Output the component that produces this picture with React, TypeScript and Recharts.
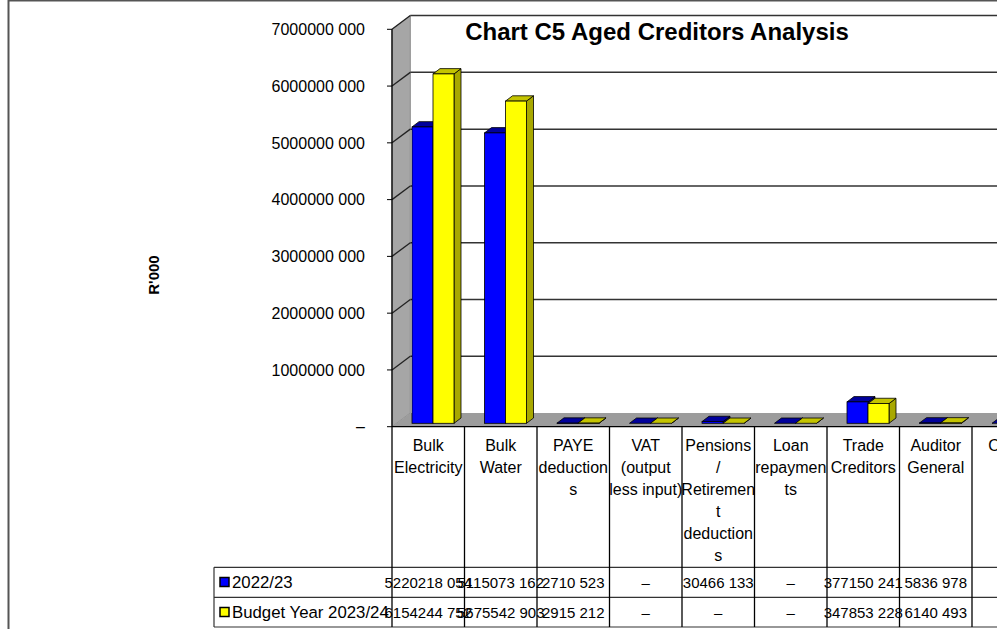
import { BarChart, Bar, XAxis, YAxis, CartesianGrid, Customized } from "recharts";

// R'000 values
const CATEGORIES = [
  "Bulk Electricity",
  "Bulk Water",
  "PAYE deductions",
  "VAT (output less input)",
  "Pensions / Retirement deductions",
  "Loan repayments",
  "Trade Creditors",
  "Auditor General",
  "Other",
];

// how the category names wrap inside the table header cells
const CATEGORY_LINES = [
  ["Bulk", "Electricity"],
  ["Bulk", "Water"],
  ["PAYE", "deduction", "s"],
  ["VAT", "(output", "less input)"],
  ["Pensions", "/", "Retiremen", "t", "deduction", "s"],
  ["Loan", "repaymen", "ts"],
  ["Trade", "Creditors"],
  ["Auditor", "General"],
  ["Other"],
];

const SERIES_2022 = [5220218054, 5115073162, 2710523, 0, 30466133, 0, 377150241, 5836978, 0];
const SERIES_BUDGET = [6154244752, 5675542903, 2915212, 0, 0, 0, 347853228, 6140493, 0];

const Y_TICKS = [0, 1000000000, 2000000000, 3000000000, 4000000000, 5000000000, 6000000000, 7000000000];

const data = CATEGORIES.map((name, i) => ({
  name,
  y2022: SERIES_2022[i],
  budget: SERIES_BUDGET[i],
}));

const W = 1100;
const H = 629;
const PLOT_LEFT = 392;
const PLOT_TOP = 29.3;
const PLOT_BOTTOM = 426.7;
const BAND = 72.5;
const PLOT_RIGHT = PLOT_LEFT + BAND * CATEGORIES.length;
const WALL_DX = 18.3;
const WALL_DY = -13.7;
const BAR_DX = 5;
const BAR_DY = -3.4;
const DEPTH_DX = 7;
const DEPTH_DY = -5.3;
const ROW1 = 567.3;
const ROW2 = 597.3;
const ROW3 = 627;
const TABLE_LEFT = 214;
const FONT = '"Liberation Sans", Arial, sans-serif';

function fmt(v: number): string {
  if (!v) return "–";
  const hi = Math.floor(v / 1000);
  const lo = String(v % 1000).padStart(3, "0");
  return hi + " " + lo;
}

function Box3D(props: any) {
  const { x, y, width, height, front, top, side } = props;
  const fx = x + BAR_DX;
  const fy = y + BAR_DY;
  const w = width;
  const h = Math.max(height, 0);
  return (
    <g>
      <polygon
        points={`${fx + w},${fy} ${fx + w + DEPTH_DX},${fy + DEPTH_DY} ${fx + w + DEPTH_DX},${fy + h + DEPTH_DY} ${fx + w},${fy + h}`}
        fill={side}
        stroke="#000"
        strokeWidth={0.8}
      />
      <polygon
        points={`${fx},${fy} ${fx + w},${fy} ${fx + w + DEPTH_DX},${fy + DEPTH_DY} ${fx + DEPTH_DX},${fy + DEPTH_DY}`}
        fill={top}
        stroke="#000"
        strokeWidth={0.8}
      />
      {h > 0 && <rect x={fx} y={fy} width={w} height={h} fill={front} stroke="#000" strokeWidth={0.8} />}
    </g>
  );
}

function GridLine(props: any) {
  const { x1, y1 } = props;
  if (Math.abs(y1 - PLOT_BOTTOM) < 0.5) {
    // side wall and floor sit under the zero line
    return (
      <g>
        <polygon
          points={`${x1},${PLOT_TOP} ${x1 + WALL_DX},${PLOT_TOP + WALL_DY} ${x1 + WALL_DX},${PLOT_BOTTOM + WALL_DY} ${x1},${PLOT_BOTTOM}`}
          fill="#a6a6a6"
          stroke="#8c8c8c"
        />
        <polygon
          points={`${x1},${PLOT_BOTTOM} ${x1 + WALL_DX},${PLOT_BOTTOM + WALL_DY} ${W},${PLOT_BOTTOM + WALL_DY} ${W},${PLOT_BOTTOM}`}
          fill="#9c9c9c"
        />
      </g>
    );
  }
  return (
    <g>
      <line x1={x1} y1={y1} x2={x1 + WALL_DX} y2={y1 + WALL_DY} stroke="#222" strokeWidth={1.3} />
      <line x1={x1 + WALL_DX} y1={y1 + WALL_DY} x2={W} y2={y1 + WALL_DY} stroke="#333" strokeWidth={1.5} />
    </g>
  );
}

function TableTick(props: any) {
  const { x, payload } = props;
  const i = payload.index ?? props.index;
  const left = x - BAND / 2;
  const right = x + BAND / 2;
  const lines = CATEGORY_LINES[i] || [];
  return (
    <g>
      <line x1={left} y1={PLOT_BOTTOM} x2={left} y2={ROW3} stroke="#000" strokeWidth={1.3} />
      {i === CATEGORIES.length - 1 && (
        <line x1={right} y1={PLOT_BOTTOM} x2={right} y2={ROW3} stroke="#000" strokeWidth={1.3} />
      )}
      <text textAnchor="middle" fontSize={16} fontFamily={FONT} fill="#000">
        {lines.map((l, k) => (
          <tspan key={k} x={x} y={445 + 22 * k} dy="0.35em">
            {l}
          </tspan>
        ))}
      </text>
      <text x={x} y={(ROW1 + ROW2) / 2} dy="0.36em" textAnchor="middle" fontSize={15} fontFamily={FONT} fill="#000">
        {fmt(SERIES_2022[i])}
      </text>
      <text x={x} y={(ROW2 + ROW3) / 2} dy="0.36em" textAnchor="middle" fontSize={15} fontFamily={FONT} fill="#000">
        {fmt(SERIES_BUDGET[i])}
      </text>
    </g>
  );
}

function Overlay() {
  return (
    <g>
      <line x1={8.5} y1={0} x2={8.5} y2={H} stroke="#555" strokeWidth={2} />
      <line x1={8} y1={0.5} x2={W} y2={0.5} stroke="#555" strokeWidth={2} />
      <text x={657} y={40} textAnchor="middle" fontSize={24} fontWeight="bold" fontFamily={FONT} fill="#000">
        Chart C5 Aged Creditors Analysis
      </text>
      <text
        x={154}
        y={275}
        transform="rotate(-90 154 275)"
        textAnchor="middle"
        dy="0.35em"
        fontSize={15}
        fontWeight="bold"
        fontFamily={FONT}
        fill="#000"
      >
        R'000
      </text>
      {[ROW1, ROW2, ROW3].map((y) => (
        <line key={y} x1={TABLE_LEFT} y1={y} x2={W} y2={y} stroke="#333" strokeWidth={1.2} />
      ))}
      <line x1={TABLE_LEFT} y1={ROW1} x2={TABLE_LEFT} y2={ROW3} stroke="#333" strokeWidth={1.2} />
      <rect x={220} y={577.5} width={9} height={9} fill="#0000ff" stroke="#000" strokeWidth={1.5} />
      <text x={232} y={(ROW1 + ROW2) / 2} dy="0.36em" fontSize={16.8} fontFamily={FONT} fill="#000">
        2022/23
      </text>
      <rect x={220} y={607.5} width={9} height={9} fill="#ffff00" stroke="#000" strokeWidth={1.5} />
      <text x={232} y={(ROW2 + ROW3) / 2} dy="0.36em" fontSize={16.8} fontFamily={FONT} fill="#000">
        Budget Year 2023/24
      </text>
    </g>
  );
}

export default function App() {
  return (
    <div
      style={{
        position: "absolute",
        left: 0,
        top: 0,
        width: 997,
        height: 629,
        overflow: "hidden",
        background: "#fff",
      }}
    >
      <BarChart
        width={W}
        height={H}
        data={data}
        margin={{ top: PLOT_TOP, right: W - PLOT_RIGHT, left: 0, bottom: 0 }}
        barGap={0}
        barSize={21}
      >
        <CartesianGrid vertical={false} horizontal={GridLine} />
        <XAxis
          dataKey="name"
          height={H - PLOT_BOTTOM}
          interval={0}
          tickLine={false}
          axisLine={{ stroke: "#000", strokeWidth: 1.3 }}
          tick={TableTick}
        />
        <YAxis
          width={PLOT_LEFT}
          domain={[0, 7000000000]}
          ticks={Y_TICKS}
          interval={0}
          tickFormatter={fmt}
          tickSize={5}
          tickMargin={22}
          tick={{ fontSize: 16, fill: "#000", fontFamily: FONT }}
          axisLine={{ stroke: "#000", strokeWidth: 1.3 }}
          tickLine={{ stroke: "#000" }}
        />
        <Bar
          dataKey="y2022"
          isAnimationActive={false}
          shape={(p: any) => <Box3D {...p} front="#0000ff" top="#00009c" side="#000080" />}
        />
        <Bar
          dataKey="budget"
          isAnimationActive={false}
          shape={(p: any) => <Box3D {...p} front="#ffff00" top="#c4c400" side="#a8a800" />}
        />
        <Customized component={<Overlay />} />
      </BarChart>
    </div>
  );
}
